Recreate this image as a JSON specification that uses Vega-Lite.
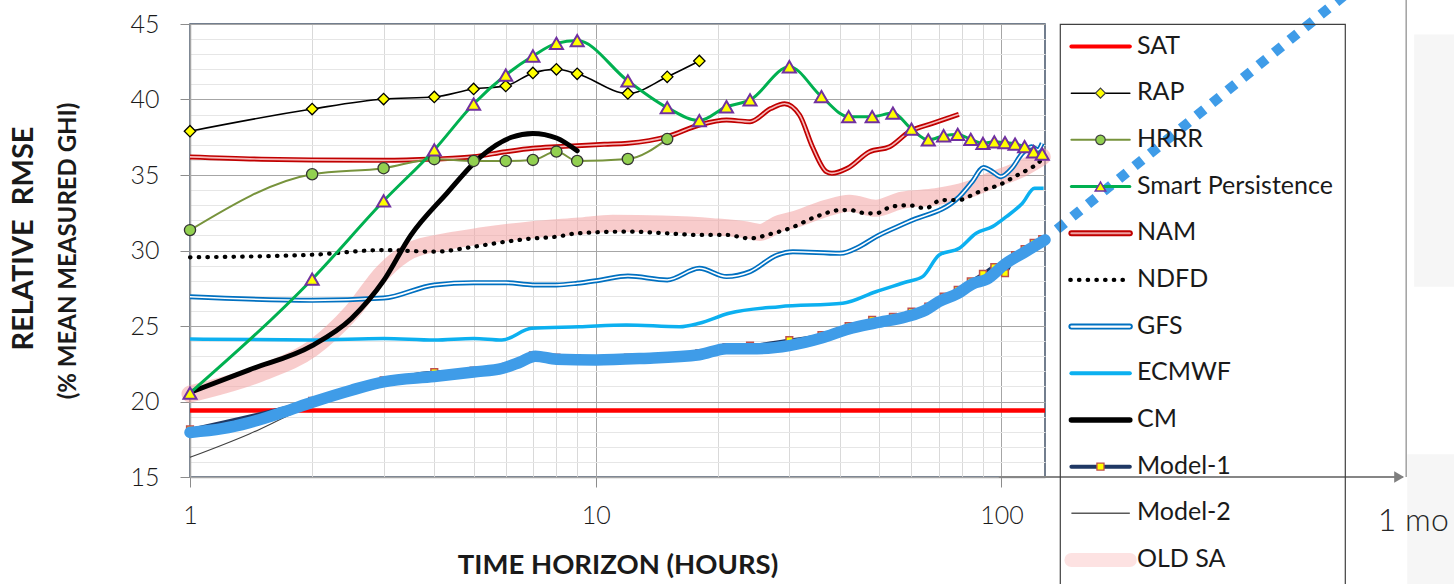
{
  "$schema": "https://vega.github.io/schema/vega-lite/v6.json",
  "autosize": {"type": "none"},
  "padding": {"left": 190, "top": 24, "right": 1264, "bottom": 560},
  "background": "white",
  "config": {"font": "Lato", "view": {"stroke": null}},
  "spacing": 15,
  "bounds": "flush",
  "hconcat": [
    {
      "width": 855,
      "height": 453,
      "view": {"stroke": "#44546a", "strokeWidth": 1.5},
      "title": {"text": "RELATIVE\u00a0 RMSE", "orient": "left", "anchor": "middle", "fontSize": 29, "fontWeight": "bold", "color": "#1a1a1a", "offset": 18, "dx": 12},
      "data": {"values": [
        {"s": "pale", "h": 1000, "h2": 100000, "v": 16.5, "v2": -30},
        {"s": "pale", "h": 1040, "h2": 100000, "v": 44.3, "v2": 27.6},

        {"s": "OLD SA", "h": 1, "v": 20.5}, {"s": "OLD SA", "h": 1.5, "v": 21.9}, {"s": "OLD SA", "h": 2, "v": 23.5},
        {"s": "OLD SA", "h": 2.5, "v": 25.9}, {"s": "OLD SA", "h": 3, "v": 28.6}, {"s": "OLD SA", "h": 3.5, "v": 30.0},
        {"s": "OLD SA", "h": 4.3, "v": 30.6}, {"s": "OLD SA", "h": 5.2, "v": 30.96}, {"s": "OLD SA", "h": 6.9, "v": 31.36},
        {"s": "OLD SA", "h": 9.1, "v": 31.62}, {"s": "OLD SA", "h": 11, "v": 31.8}, {"s": "OLD SA", "h": 14.6, "v": 31.75},
        {"s": "OLD SA", "h": 19.4, "v": 31.58}, {"s": "OLD SA", "h": 23.5, "v": 31.36}, {"s": "OLD SA", "h": 25.4, "v": 31.2},
        {"s": "OLD SA", "h": 28.4, "v": 31.8}, {"s": "OLD SA", "h": 30.6, "v": 32.02}, {"s": "OLD SA", "h": 37, "v": 32.8},
        {"s": "OLD SA", "h": 42.2, "v": 33.13}, {"s": "OLD SA", "h": 49, "v": 32.8}, {"s": "OLD SA", "h": 57, "v": 33.34},
        {"s": "OLD SA", "h": 69, "v": 33.56}, {"s": "OLD SA", "h": 82, "v": 34.0}, {"s": "OLD SA", "h": 95, "v": 34.67},
        {"s": "OLD SA", "h": 112.6, "v": 35.44}, {"s": "OLD SA", "h": 126, "v": 36.21},

        {"s": "SAT", "h": 1, "v": 19.4}, {"s": "SAT", "h": 128, "v": 19.4},

        {"s": "GFS", "h": 1, "v": 26.94}, {"s": "GFS", "h": 2, "v": 26.7}, {"s": "GFS", "h": 3, "v": 26.85},
        {"s": "GFS", "h": 4, "v": 27.72}, {"s": "GFS", "h": 5, "v": 27.87}, {"s": "GFS", "h": 6, "v": 27.87},
        {"s": "GFS", "h": 7, "v": 27.72}, {"s": "GFS", "h": 8, "v": 27.72}, {"s": "GFS", "h": 9, "v": 27.83},
        {"s": "GFS", "h": 10.3, "v": 28.05}, {"s": "GFS", "h": 12, "v": 28.31}, {"s": "GFS", "h": 15, "v": 28.05},
        {"s": "GFS", "h": 18, "v": 28.82}, {"s": "GFS", "h": 21, "v": 28.27}, {"s": "GFS", "h": 24, "v": 28.6},
        {"s": "GFS", "h": 28, "v": 29.7}, {"s": "GFS", "h": 30.6, "v": 29.92}, {"s": "GFS", "h": 40, "v": 29.81},
        {"s": "GFS", "h": 44.6, "v": 30.25}, {"s": "GFS", "h": 49, "v": 30.9}, {"s": "GFS", "h": 59, "v": 31.9},
        {"s": "GFS", "h": 78.7, "v": 33.56}, {"s": "GFS", "h": 84.7, "v": 34.56}, {"s": "GFS", "h": 90.3, "v": 35.5},
        {"s": "GFS", "h": 95, "v": 35.22}, {"s": "GFS", "h": 99.6, "v": 34.89}, {"s": "GFS", "h": 106, "v": 35.44},
        {"s": "GFS", "h": 112.6, "v": 36.44}, {"s": "GFS", "h": 118.6, "v": 36.87}, {"s": "GFS", "h": 123, "v": 36.66},
        {"s": "GFS", "h": 126, "v": 37.1},

        {"s": "ECMWF", "h": 1, "v": 24.14}, {"s": "ECMWF", "h": 2, "v": 24.07}, {"s": "ECMWF", "h": 3, "v": 24.18},
        {"s": "ECMWF", "h": 4, "v": 24.07}, {"s": "ECMWF", "h": 5, "v": 24.18}, {"s": "ECMWF", "h": 5.87, "v": 24.07},
        {"s": "ECMWF", "h": 6.95, "v": 24.85}, {"s": "ECMWF", "h": 9.1, "v": 24.95}, {"s": "ECMWF", "h": 11.9, "v": 25.07},
        {"s": "ECMWF", "h": 16.1, "v": 24.95}, {"s": "ECMWF", "h": 18, "v": 25.18}, {"s": "ECMWF", "h": 21.3, "v": 25.84},
        {"s": "ECMWF", "h": 28.4, "v": 26.28}, {"s": "ECMWF", "h": 40.6, "v": 26.5}, {"s": "ECMWF", "h": 49, "v": 27.27},
        {"s": "ECMWF", "h": 58.5, "v": 27.93}, {"s": "ECMWF", "h": 63.9, "v": 28.27}, {"s": "ECMWF", "h": 70.2, "v": 29.7},
        {"s": "ECMWF", "h": 78.7, "v": 30.15}, {"s": "ECMWF", "h": 86.6, "v": 31.14}, {"s": "ECMWF", "h": 95, "v": 31.58},
        {"s": "ECMWF", "h": 102.8, "v": 32.24}, {"s": "ECMWF", "h": 112.6, "v": 33.13}, {"s": "ECMWF", "h": 120.6, "v": 34.12},
        {"s": "ECMWF", "h": 127, "v": 34.12},

        {"s": "NDFD", "h": 1, "v": 29.55}, {"s": "NDFD", "h": 2, "v": 29.72}, {"s": "NDFD", "h": 3, "v": 30.03},
        {"s": "NDFD", "h": 4, "v": 29.92}, {"s": "NDFD", "h": 5, "v": 30.25}, {"s": "NDFD", "h": 6, "v": 30.58},
        {"s": "NDFD", "h": 7, "v": 30.8}, {"s": "NDFD", "h": 8, "v": 30.91}, {"s": "NDFD", "h": 9, "v": 31.14},
        {"s": "NDFD", "h": 12, "v": 31.25}, {"s": "NDFD", "h": 15, "v": 31.14}, {"s": "NDFD", "h": 18, "v": 31.03},
        {"s": "NDFD", "h": 21, "v": 31.03}, {"s": "NDFD", "h": 24, "v": 30.8}, {"s": "NDFD", "h": 27, "v": 31.1},
        {"s": "NDFD", "h": 30.3, "v": 31.5}, {"s": "NDFD", "h": 34.9, "v": 32.24}, {"s": "NDFD", "h": 40.3, "v": 32.68},
        {"s": "NDFD", "h": 42.2, "v": 32.68}, {"s": "NDFD", "h": 46.5, "v": 32.46}, {"s": "NDFD", "h": 49, "v": 32.46},
        {"s": "NDFD", "h": 53.5, "v": 32.9}, {"s": "NDFD", "h": 58.9, "v": 33.0}, {"s": "NDFD", "h": 65, "v": 32.8},
        {"s": "NDFD", "h": 71.1, "v": 33.34}, {"s": "NDFD", "h": 78.7, "v": 33.34}, {"s": "NDFD", "h": 82.8, "v": 33.56},
        {"s": "NDFD", "h": 90, "v": 34.0}, {"s": "NDFD", "h": 98.7, "v": 34.34}, {"s": "NDFD", "h": 107.7, "v": 34.89},
        {"s": "NDFD", "h": 117.5, "v": 35.44}, {"s": "NDFD", "h": 123, "v": 35.77}, {"s": "NDFD", "h": 126, "v": 36.1},

        {"s": "NAM", "h": 1, "v": 36.2}, {"s": "NAM", "h": 1.5, "v": 36.05}, {"s": "NAM", "h": 2, "v": 36.0},
        {"s": "NAM", "h": 3, "v": 35.97}, {"s": "NAM", "h": 4, "v": 36.06}, {"s": "NAM", "h": 5, "v": 36.21},
        {"s": "NAM", "h": 6, "v": 36.54}, {"s": "NAM", "h": 7, "v": 36.77}, {"s": "NAM", "h": 8, "v": 36.87},
        {"s": "NAM", "h": 9, "v": 36.94}, {"s": "NAM", "h": 10.5, "v": 37.03}, {"s": "NAM", "h": 12, "v": 37.1},
        {"s": "NAM", "h": 15, "v": 37.54}, {"s": "NAM", "h": 18, "v": 38.31}, {"s": "NAM", "h": 21, "v": 38.64},
        {"s": "NAM", "h": 24, "v": 38.53}, {"s": "NAM", "h": 27, "v": 39.4}, {"s": "NAM", "h": 29.2, "v": 39.72},
        {"s": "NAM", "h": 31.8, "v": 38.97}, {"s": "NAM", "h": 34.2, "v": 36.87}, {"s": "NAM", "h": 37, "v": 35.22},
        {"s": "NAM", "h": 38.2, "v": 35.11}, {"s": "NAM", "h": 41.7, "v": 35.44}, {"s": "NAM", "h": 47.3, "v": 36.54},
        {"s": "NAM", "h": 53, "v": 36.87}, {"s": "NAM", "h": 59.3, "v": 37.87}, {"s": "NAM", "h": 67.6, "v": 38.42},
        {"s": "NAM", "h": 78.5, "v": 39.02},

        {"s": "HRRR", "h": 1, "v": 31.35}, {"s": "HRRR", "h": 2, "v": 35.05}, {"s": "HRRR", "h": 3, "v": 35.45},
        {"s": "HRRR", "h": 4, "v": 36.05}, {"s": "HRRR", "h": 5, "v": 35.93}, {"s": "HRRR", "h": 6, "v": 35.93},
        {"s": "HRRR", "h": 7, "v": 36.0}, {"s": "HRRR", "h": 8, "v": 36.55}, {"s": "HRRR", "h": 9, "v": 35.93},
        {"s": "HRRR", "h": 12, "v": 36.06}, {"s": "HRRR", "h": 15, "v": 37.38},

        {"s": "RAP", "h": 1, "v": 37.9}, {"s": "RAP", "h": 2, "v": 39.37}, {"s": "RAP", "h": 3, "v": 40.03},
        {"s": "RAP", "h": 4, "v": 40.17}, {"s": "RAP", "h": 5, "v": 40.7}, {"s": "RAP", "h": 6, "v": 40.9},
        {"s": "RAP", "h": 7, "v": 41.76}, {"s": "RAP", "h": 8, "v": 42.0}, {"s": "RAP", "h": 9, "v": 41.7},
        {"s": "RAP", "h": 12, "v": 40.4}, {"s": "RAP", "h": 15, "v": 41.5}, {"s": "RAP", "h": 18, "v": 42.55},

        {"s": "CM", "h": 1, "v": 20.6}, {"s": "CM", "h": 1.4, "v": 22.1}, {"s": "CM", "h": 2, "v": 23.7},
        {"s": "CM", "h": 2.5, "v": 25.5}, {"s": "CM", "h": 3, "v": 28.0}, {"s": "CM", "h": 3.5, "v": 31.0},
        {"s": "CM", "h": 4.3, "v": 33.8}, {"s": "CM", "h": 5.2, "v": 36.2}, {"s": "CM", "h": 6.2, "v": 37.5},
        {"s": "CM", "h": 7, "v": 37.75}, {"s": "CM", "h": 8, "v": 37.45}, {"s": "CM", "h": 9, "v": 36.6},

        {"s": "Smart Persistence", "h": 1, "v": 20.56}, {"s": "Smart Persistence", "h": 2, "v": 28.1},
        {"s": "Smart Persistence", "h": 3, "v": 33.28}, {"s": "Smart Persistence", "h": 4, "v": 36.66},
        {"s": "Smart Persistence", "h": 5, "v": 39.7}, {"s": "Smart Persistence", "h": 6, "v": 41.62},
        {"s": "Smart Persistence", "h": 7, "v": 42.88}, {"s": "Smart Persistence", "h": 8, "v": 43.72},
        {"s": "Smart Persistence", "h": 9, "v": 43.9}, {"s": "Smart Persistence", "h": 12, "v": 41.23},
        {"s": "Smart Persistence", "h": 15, "v": 39.46}, {"s": "Smart Persistence", "h": 18, "v": 38.6},
        {"s": "Smart Persistence", "h": 21, "v": 39.52}, {"s": "Smart Persistence", "h": 24, "v": 39.97},
        {"s": "Smart Persistence", "h": 30, "v": 42.17}, {"s": "Smart Persistence", "h": 36, "v": 40.19},
        {"s": "Smart Persistence", "h": 42, "v": 38.86}, {"s": "Smart Persistence", "h": 48, "v": 38.86},
        {"s": "Smart Persistence", "h": 54, "v": 39.1}, {"s": "Smart Persistence", "h": 60, "v": 38.04},
        {"s": "Smart Persistence", "h": 66, "v": 37.32}, {"s": "Smart Persistence", "h": 72, "v": 37.6},
        {"s": "Smart Persistence", "h": 78, "v": 37.69}, {"s": "Smart Persistence", "h": 84, "v": 37.36},
        {"s": "Smart Persistence", "h": 90, "v": 37.1}, {"s": "Smart Persistence", "h": 96, "v": 37.2},
        {"s": "Smart Persistence", "h": 102, "v": 37.14}, {"s": "Smart Persistence", "h": 108, "v": 37.05},
        {"s": "Smart Persistence", "h": 114, "v": 36.88}, {"s": "Smart Persistence", "h": 120, "v": 36.54},
        {"s": "Smart Persistence", "h": 126, "v": 36.39},

        {"s": "Model-2", "h": 1, "v": 16.3}, {"s": "Model-2", "h": 1.4, "v": 17.85}, {"s": "Model-2", "h": 1.85, "v": 19.35},
        {"s": "Model-2", "h": 2.2, "v": 20.1}, {"s": "Model-2", "h": 3, "v": 21.1}, {"s": "Model-2", "h": 4, "v": 21.5},
        {"s": "Model-2", "h": 5, "v": 21.8}, {"s": "Model-2", "h": 6, "v": 22.1}, {"s": "Model-2", "h": 7, "v": 22.8},
        {"s": "Model-2", "h": 8, "v": 22.65}, {"s": "Model-2", "h": 10, "v": 22.65}, {"s": "Model-2", "h": 13, "v": 22.75},
        {"s": "Model-2", "h": 18, "v": 23.0}, {"s": "Model-2", "h": 21, "v": 23.4}, {"s": "Model-2", "h": 25, "v": 23.4},
        {"s": "Model-2", "h": 30, "v": 23.6}, {"s": "Model-2", "h": 36, "v": 24.1}, {"s": "Model-2", "h": 42, "v": 24.7},
        {"s": "Model-2", "h": 48, "v": 25.1}, {"s": "Model-2", "h": 60, "v": 25.5}, {"s": "Model-2", "h": 66, "v": 26.0},
        {"s": "Model-2", "h": 72, "v": 26.55}, {"s": "Model-2", "h": 78, "v": 27.05}, {"s": "Model-2", "h": 84, "v": 27.7},
        {"s": "Model-2", "h": 90, "v": 28.0}, {"s": "Model-2", "h": 102, "v": 29.0}, {"s": "Model-2", "h": 114, "v": 29.8},
        {"s": "Model-2", "h": 126, "v": 30.5},

        {"s": "Model-1", "h": 1, "v": 18.15}, {"s": "Model-1", "h": 2, "v": 20.05}, {"s": "Model-1", "h": 3, "v": 21.4},
        {"s": "Model-1", "h": 4, "v": 21.95}, {"s": "Model-1", "h": 5, "v": 22.05}, {"s": "Model-1", "h": 6, "v": 22.3},
        {"s": "Model-1", "h": 7, "v": 23.05}, {"s": "Model-1", "h": 8, "v": 22.9}, {"s": "Model-1", "h": 9, "v": 22.85},
        {"s": "Model-1", "h": 12, "v": 22.9}, {"s": "Model-1", "h": 15, "v": 23.0}, {"s": "Model-1", "h": 18, "v": 23.2},
        {"s": "Model-1", "h": 21, "v": 23.6}, {"s": "Model-1", "h": 24, "v": 23.7}, {"s": "Model-1", "h": 30, "v": 24.07},
        {"s": "Model-1", "h": 36, "v": 24.4}, {"s": "Model-1", "h": 42, "v": 25.0}, {"s": "Model-1", "h": 48, "v": 25.4},
        {"s": "Model-1", "h": 54, "v": 25.6}, {"s": "Model-1", "h": 60, "v": 25.95}, {"s": "Model-1", "h": 66, "v": 26.28},
        {"s": "Model-1", "h": 72, "v": 26.94}, {"s": "Model-1", "h": 78, "v": 27.4}, {"s": "Model-1", "h": 84, "v": 27.95},
        {"s": "Model-1", "h": 90, "v": 28.45}, {"s": "Model-1", "h": 96, "v": 28.9}, {"s": "Model-1", "h": 102, "v": 28.5},
        {"s": "Model-1", "h": 108, "v": 29.7}, {"s": "Model-1", "h": 114, "v": 30.1}, {"s": "Model-1", "h": 120, "v": 30.5},
        {"s": "Model-1", "h": 126, "v": 30.75},

        {"s": "Highlight", "h": 1, "v": 17.95}, {"s": "Highlight", "h": 1.2, "v": 18.2}, {"s": "Highlight", "h": 1.4, "v": 18.6},
        {"s": "Highlight", "h": 1.7, "v": 19.3}, {"s": "Highlight", "h": 2, "v": 19.95}, {"s": "Highlight", "h": 2.5, "v": 20.75},
        {"s": "Highlight", "h": 3, "v": 21.3}, {"s": "Highlight", "h": 4, "v": 21.65}, {"s": "Highlight", "h": 5, "v": 21.95},
        {"s": "Highlight", "h": 5.9, "v": 22.2}, {"s": "Highlight", "h": 6.5, "v": 22.6}, {"s": "Highlight", "h": 7.1, "v": 23.0},
        {"s": "Highlight", "h": 8, "v": 22.8}, {"s": "Highlight", "h": 10, "v": 22.75}, {"s": "Highlight", "h": 13, "v": 22.85},
        {"s": "Highlight", "h": 18, "v": 23.1}, {"s": "Highlight", "h": 21, "v": 23.5}, {"s": "Highlight", "h": 25, "v": 23.5},
        {"s": "Highlight", "h": 30, "v": 23.7}, {"s": "Highlight", "h": 36, "v": 24.2}, {"s": "Highlight", "h": 42, "v": 24.8},
        {"s": "Highlight", "h": 49, "v": 25.2}, {"s": "Highlight", "h": 58, "v": 25.6}, {"s": "Highlight", "h": 65, "v": 26.05},
        {"s": "Highlight", "h": 70, "v": 26.6}, {"s": "Highlight", "h": 78, "v": 27.15}, {"s": "Highlight", "h": 85, "v": 27.8},
        {"s": "Highlight", "h": 92, "v": 28.1}, {"s": "Highlight", "h": 102, "v": 29.1}, {"s": "Highlight", "h": 115, "v": 29.95},
        {"s": "Highlight", "h": 128, "v": 30.7},

        {"s": "arrow", "h": 98.5, "h2": 975, "v": 15},
        {"s": "arrowhead", "h": 955, "v": 15},
        {"s": "divider", "h": 994, "v": 15, "v2": 49},
        {"s": "label", "h": 1035, "v": 12.1, "label": "1 mo"},
        {"s": "extension", "h": 137, "v": 31.4}, {"s": "extension", "h": 820, "v": 48.4}
      ]},
      "encoding": {
        "x": {
          "field": "h", "type": "quantitative",
          "scale": {"type": "log", "domain": [1, 128], "nice": false},
          "axis": {
            "values": [1, 2, 3, 4, 5, 6, 7, 8, 9, 10, 20, 30, 40, 50, 60, 70, 80, 90, 100],
            "labelExpr": "datum.value == 1 || datum.value == 10 || datum.value == 100 ? format(datum.value, 'd') : ''",
            "labelOverlap": false, "labelFlush": false,
            "grid": true,
            "gridColor": {"condition": {"test": "datum.value == 10 || datum.value == 100", "value": "#a6a6a6"}, "value": "#d9d9d9"},
            "gridWidth": 1,
            "tickOpacity": {"condition": {"test": "datum.value == 1 || datum.value == 10 || datum.value == 100", "value": 1}, "value": 0},
            "tickSize": 10, "tickColor": "#8c8c8c", "tickWidth": 1,
            "domainColor": "#a6a6a6", "domainWidth": 1.5,
            "labelFontSize": 25, "labelFontWeight": 300, "labelColor": "#1a1a1a", "labelPadding": 16,
            "title": "TIME HORIZON (HOURS)", "titleFontSize": 27.5, "titleFontWeight": "bold", "titleColor": "#1a1a1a", "titlePadding": 23
          }
        },
        "y": {
          "field": "v", "type": "quantitative",
          "scale": {"domain": [15, 45], "nice": false, "zero": false},
          "axis": {
            "values": [15, 16, 17, 18, 19, 20, 21, 22, 23, 24, 25, 26, 27, 28, 29, 30, 31, 32, 33, 34, 35, 36, 37, 38, 39, 40, 41, 42, 43, 44, 45],
            "labelExpr": "datum.value % 5 == 0 ? format(datum.value, 'd') : ''",
            "labelOverlap": false, "labelFlush": false,
            "grid": true,
            "gridColor": {"condition": {"test": "datum.value % 5 == 0", "value": "#a6a6a6"}, "value": "#e6e6e6"},
            "gridWidth": 1,
            "tickOpacity": {"condition": {"test": "datum.value % 5 == 0", "value": 1}, "value": 0},
            "tickSize": 10, "tickColor": "#8c8c8c", "tickWidth": 1,
            "domainColor": "#a6a6a6", "domainWidth": 1.5,
            "labelFontSize": 25, "labelFontWeight": 300, "labelColor": "#1a1a1a", "labelPadding": 21,
            "title": "(% MEAN MEASURED GHI)", "titleFontSize": 24, "titleFontWeight": "bold", "titleColor": "#1a1a1a", "titlePadding": 49
          }
        }
      },
      "layer": [
        {"transform": [{"filter": "datum.s == 'pale'"}], "mark": {"type": "rect", "fill": "#f6f6f6"},
         "encoding": {"x2": {"field": "h2"}, "y2": {"field": "v2"}}},
        {"transform": [{"filter": "datum.s == 'OLD SA'"}], "mark": {"type": "line", "stroke": "#f3a3a3", "opacity": 0.55, "strokeWidth": 17, "strokeCap": "round", "interpolate": "monotone"}, "encoding": {}},
        {"transform": [{"filter": "datum.s == 'SAT'"}], "mark": {"type": "line", "stroke": "#ff0000", "strokeWidth": 4.5}, "encoding": {}},
        {"transform": [{"filter": "datum.s == 'GFS'"}], "mark": {"type": "line", "stroke": "#0070c0", "strokeWidth": 5, "interpolate": "monotone"}, "encoding": {}},
        {"transform": [{"filter": "datum.s == 'GFS'"}], "mark": {"type": "line", "stroke": "#ffffff", "strokeWidth": 1.6, "interpolate": "monotone"}, "encoding": {}},
        {"transform": [{"filter": "datum.s == 'ECMWF'"}], "mark": {"type": "line", "stroke": "#0cb0f0", "strokeWidth": 3.5, "interpolate": "monotone"}, "encoding": {}},
        {"transform": [{"filter": "datum.s == 'NDFD'"}], "mark": {"type": "line", "stroke": "#000000", "strokeWidth": 4.2, "strokeDash": [0.5, 8.2], "strokeCap": "round", "interpolate": "monotone"}, "encoding": {}},
        {"transform": [{"filter": "datum.s == 'NAM'"}], "mark": {"type": "line", "stroke": "#c00000", "strokeWidth": 5, "interpolate": "monotone"}, "encoding": {}},
        {"transform": [{"filter": "datum.s == 'NAM'"}], "mark": {"type": "line", "stroke": "#f7b9b9", "strokeWidth": 1.6, "interpolate": "monotone"}, "encoding": {}},
        {"transform": [{"filter": "datum.s == 'HRRR'"}], "mark": {"type": "line", "stroke": "#77933c", "strokeWidth": 2, "interpolate": "monotone"}, "encoding": {}},
        {"transform": [{"filter": "datum.s == 'RAP'"}], "mark": {"type": "line", "stroke": "#000000", "strokeWidth": 1.6, "interpolate": "monotone"}, "encoding": {}},
        {"transform": [{"filter": "datum.s == 'CM'"}], "mark": {"type": "line", "stroke": "#000000", "strokeWidth": 5, "strokeCap": "round", "interpolate": "monotone"}, "encoding": {}},
        {"transform": [{"filter": "datum.s == 'Smart Persistence'"}], "mark": {"type": "line", "stroke": "#00b050", "strokeWidth": 3, "interpolate": "monotone"}, "encoding": {}},
        {"transform": [{"filter": "datum.s == 'Model-2'"}], "mark": {"type": "line", "stroke": "#404040", "strokeWidth": 1.1, "interpolate": "monotone"}, "encoding": {}},
        {"transform": [{"filter": "datum.s == 'Model-1'"}], "mark": {"type": "line", "stroke": "#1f3864", "strokeWidth": 3, "interpolate": "monotone"}, "encoding": {}},
        {"transform": [{"filter": "datum.s == 'Model-1'"}], "mark": {"type": "point", "shape": "square", "filled": true, "fill": "#ffff00", "stroke": "#c0504d", "strokeWidth": 1.5, "size": 45, "opacity": 1}, "encoding": {}},
        {"transform": [{"filter": "datum.s == 'Highlight'"}], "mark": {"type": "line", "stroke": "#3f9ce8", "strokeWidth": 11.5, "strokeCap": "round", "interpolate": "monotone"}, "encoding": {}},
        {"transform": [{"filter": "datum.s == 'HRRR'"}], "mark": {"type": "point", "shape": "circle", "filled": true, "fill": "#92d050", "stroke": "#333333", "strokeWidth": 1.3, "size": 125, "opacity": 1}, "encoding": {}},
        {"transform": [{"filter": "datum.s == 'RAP'"}], "mark": {"type": "point", "shape": "diamond", "filled": true, "fill": "#ffff00", "stroke": "#000000", "strokeWidth": 1.3, "size": 130, "opacity": 1}, "encoding": {}},
        {"transform": [{"filter": "datum.s == 'Smart Persistence'"}], "mark": {"type": "point", "shape": "triangle-up", "filled": true, "fill": "#ffff00", "stroke": "#7030a0", "strokeWidth": 2, "size": 170, "opacity": 1}, "encoding": {}},
        {"transform": [{"filter": "datum.s == 'arrow'"}], "mark": {"type": "rule", "stroke": "#868686", "strokeWidth": 2}, "encoding": {"x2": {"field": "h2"}}},
        {"transform": [{"filter": "datum.s == 'arrowhead'"}], "mark": {"type": "point", "shape": "triangle-right", "filled": true, "fill": "#7f7f7f", "size": 130, "opacity": 1}, "encoding": {}},
        {"transform": [{"filter": "datum.s == 'divider'"}], "mark": {"type": "rule", "stroke": "#a0a0a0", "strokeWidth": 1.5}, "encoding": {"y2": {"field": "v2"}}},
        {"transform": [{"filter": "datum.s == 'label'"}], "mark": {"type": "text", "fontSize": 32, "fontWeight": 300, "color": "#262626", "align": "center", "baseline": "middle"}, "encoding": {"text": {"field": "label"}}},
        {"transform": [{"filter": "datum.s == 'extension'"}], "mark": {"type": "line", "stroke": "#3f9ce8", "strokeWidth": 10, "strokeDash": [10, 10], "strokeCap": "butt"}, "encoding": {}}
      ]
    },
    {
      "width": 285,
      "height": 580,
      "view": {"stroke": "#404040", "strokeWidth": 1.2},
      "data": {"values": [
        {"entry": "SAT"}, {"entry": "RAP"}, {"entry": "HRRR"}, {"entry": "Smart Persistence"},
        {"entry": "NAM"}, {"entry": "NDFD"}, {"entry": "GFS"}, {"entry": "ECMWF"},
        {"entry": "CM"}, {"entry": "Model-1"}, {"entry": "Model-2"}, {"entry": "OLD SA"}
      ]},
      "encoding": {
        "x": {"datum": 4, "type": "quantitative", "scale": {"domain": [0, 100]}, "axis": null},
        "x2": {"datum": 24.5},
        "y": {"field": "entry", "type": "nominal", "axis": null,
              "scale": {"type": "point", "padding": 0, "domain": ["SAT", "RAP", "HRRR", "Smart Persistence", "NAM", "NDFD", "GFS", "ECMWF", "CM", "Model-1", "Model-2", "OLD SA"], "range": [22.5, 536]}}
      },
      "layer": [
        {"transform": [{"filter": "datum.entry == 'SAT'"}], "mark": {"type": "rule", "strokeCap": "round", "stroke": "#ff0000", "strokeWidth": 4}},
        {"transform": [{"filter": "datum.entry == 'RAP'"}], "mark": {"type": "rule", "strokeCap": "round", "stroke": "#000000", "strokeWidth": 1.6}},
        {"transform": [{"filter": "datum.entry == 'HRRR'"}], "mark": {"type": "rule", "strokeCap": "round", "stroke": "#77933c", "strokeWidth": 2}},
        {"transform": [{"filter": "datum.entry == 'Smart Persistence'"}], "mark": {"type": "rule", "strokeCap": "round", "stroke": "#00b050", "strokeWidth": 3}},
        {"transform": [{"filter": "datum.entry == 'NAM'"}], "mark": {"type": "rule", "strokeCap": "round", "stroke": "#c00000", "strokeWidth": 6}},
        {"transform": [{"filter": "datum.entry == 'NAM'"}], "mark": {"type": "rule", "strokeCap": "round", "stroke": "#eea0a0", "strokeWidth": 2.2}},
        {"transform": [{"filter": "datum.entry == 'NDFD'"}], "mark": {"type": "rule", "stroke": "#000000", "strokeWidth": 4.2, "strokeDash": [0.5, 8.2], "strokeCap": "round"},
         "encoding": {"x": {"datum": 3.6, "type": "quantitative"}, "x2": {"datum": 23.6}}},
        {"transform": [{"filter": "datum.entry == 'GFS'"}], "mark": {"type": "rule", "strokeCap": "round", "stroke": "#0070c0", "strokeWidth": 6}},
        {"transform": [{"filter": "datum.entry == 'GFS'"}], "mark": {"type": "rule", "strokeCap": "round", "stroke": "#ffffff", "strokeWidth": 2.2}},
        {"transform": [{"filter": "datum.entry == 'ECMWF'"}], "mark": {"type": "rule", "strokeCap": "round", "stroke": "#0cb0f0", "strokeWidth": 4}},
        {"transform": [{"filter": "datum.entry == 'CM'"}], "mark": {"type": "rule", "strokeCap": "round", "stroke": "#000000", "strokeWidth": 5.5}},
        {"transform": [{"filter": "datum.entry == 'Model-1'"}], "mark": {"type": "rule", "strokeCap": "round", "stroke": "#1f3864", "strokeWidth": 4}},
        {"transform": [{"filter": "datum.entry == 'Model-2'"}], "mark": {"type": "rule", "strokeCap": "butt", "stroke": "#595959", "strokeWidth": 1.5}},
        {"transform": [{"filter": "datum.entry == 'OLD SA'"}], "mark": {"type": "rule", "strokeCap": "round", "stroke": "#fde2e2", "strokeWidth": 14}},
        {"transform": [{"filter": "datum.entry == 'RAP'"}],
         "mark": {"type": "point", "shape": "diamond", "filled": true, "fill": "#ffff00", "stroke": "#404040", "strokeWidth": 1.2, "size": 100, "opacity": 1},
         "encoding": {"x": {"datum": 14.2, "type": "quantitative"}, "x2": null}},
        {"transform": [{"filter": "datum.entry == 'HRRR'"}],
         "mark": {"type": "point", "shape": "circle", "filled": true, "fill": "#92d050", "stroke": "#404040", "strokeWidth": 1.2, "size": 90, "opacity": 1},
         "encoding": {"x": {"datum": 14.2, "type": "quantitative"}, "x2": null}},
        {"transform": [{"filter": "datum.entry == 'Smart Persistence'"}],
         "mark": {"type": "point", "shape": "triangle-up", "filled": true, "fill": "#ffff00", "stroke": "#7030a0", "strokeWidth": 1.5, "size": 110, "opacity": 1},
         "encoding": {"x": {"datum": 14.2, "type": "quantitative"}, "x2": null}},
        {"transform": [{"filter": "datum.entry == 'Model-1'"}],
         "mark": {"type": "point", "shape": "square", "filled": true, "fill": "#ffff00", "stroke": "#c0504d", "strokeWidth": 1.3, "size": 50, "opacity": 1},
         "encoding": {"x": {"datum": 14.2, "type": "quantitative"}, "x2": null}},
        {"mark": {"type": "text", "align": "left", "baseline": "middle", "fontSize": 25, "color": "#1a1a1a", "dy": -1},
         "encoding": {
           "x": {"datum": 27, "type": "quantitative"},
           "x2": null,
           "text": {"field": "entry"}
         }}
      ]
    }
  ]
}
